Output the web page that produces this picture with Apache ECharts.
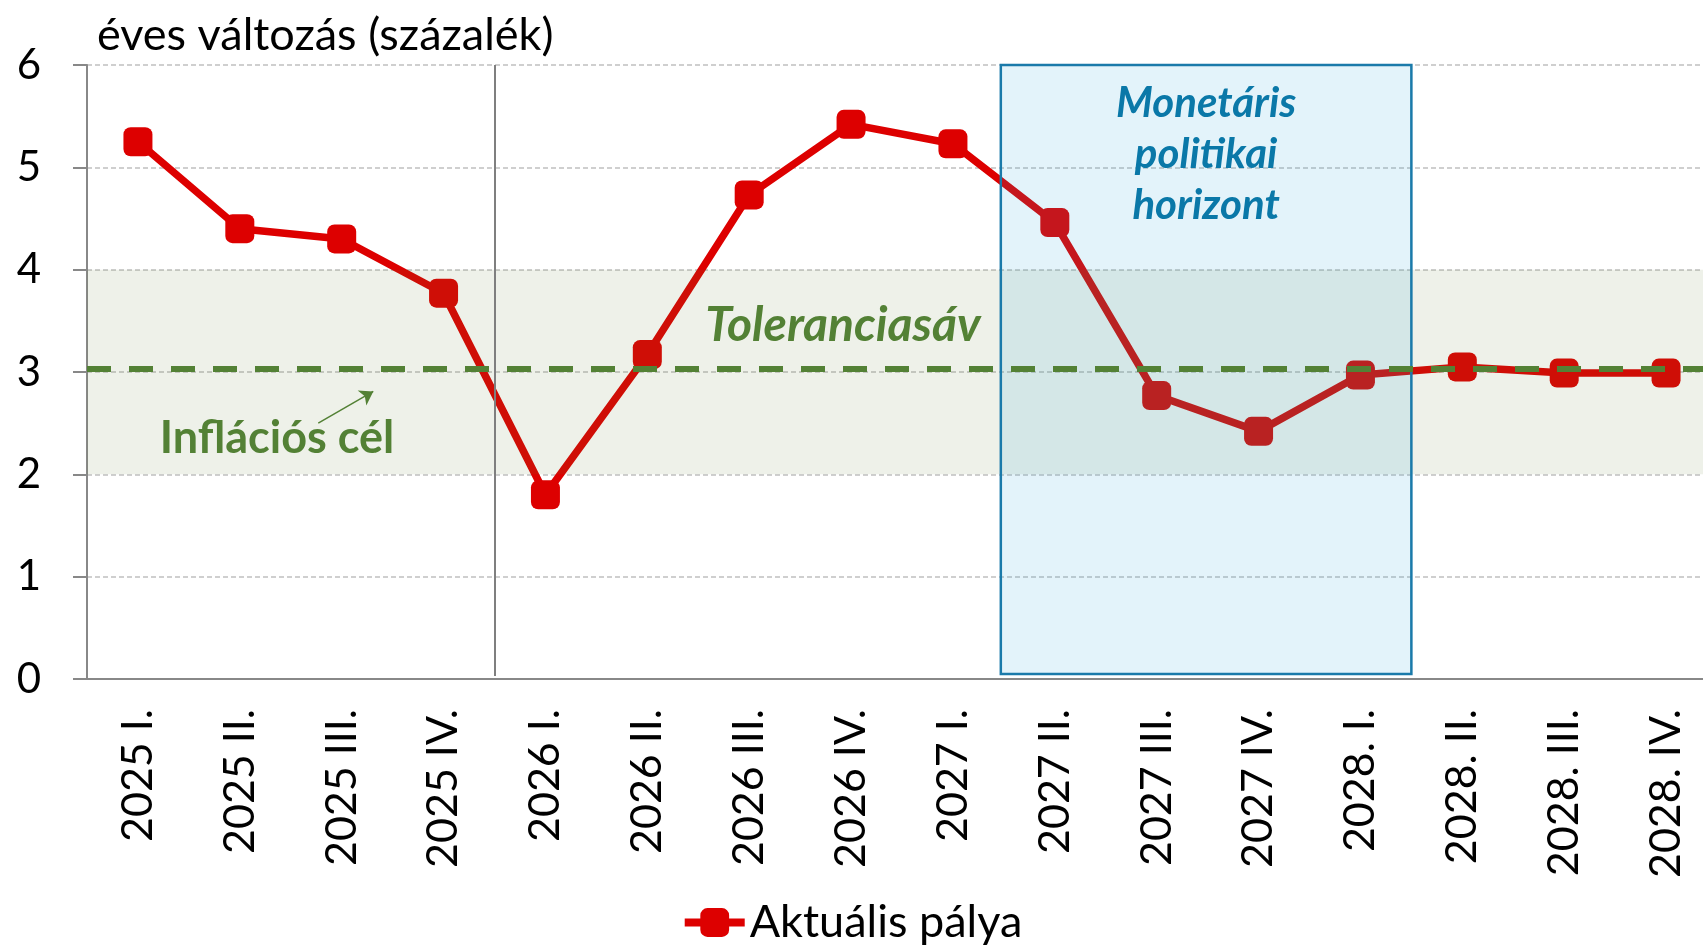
<!DOCTYPE html>
<html>
<head>
<meta charset="utf-8">
<title>Infláció - aktuális pálya</title>
<script src="https://cdn.jsdelivr.net/npm/echarts/dist/echarts.min.js"></script>
<style>
  html, body { margin: 0; padding: 0; background: #fff; overflow: hidden; }
  #chart { width: 1703px; height: 948px; }
</style>
</head>
<body>
<div id="chart"></div>
<script>
// negyedévek
const categories = ['2025 I.', '2025 II.', '2025 III.', '2025 IV.', '2026 I.', '2026 II.', '2026 III.', '2026 IV.',
  '2027 I.', '2027 II.', '2027 III.', '2027 IV.', '2028. I.', '2028. II.', '2028. III.', '2028. IV.']
// éves változás, százalék
const aktualis = [5.25, 4.4, 4.3, 3.77, 1.8, 3.17, 4.73, 5.42, 5.23, 4.46, 2.77, 2.42, 2.97, 3.05, 2.99, 2.99]
const yMin = 0
const yMax = 6
const yStep = 1
const inflaciosCel = 3.03
const toleranciaSav = [2, 4]
// monetáris politikai horizont (negyedév-határokban)
const horizontX = [8.97, 13]
const horizontY = [0.05, 6.02]
const elvalaszto = 4

const font = 'Lato, "Noto Sans", sans-serif'
const zold = '#538135'

const myChart = echarts.init(document.getElementById('chart'))

var option = {
  animation: false,
  textStyle: { fontFamily: font },
  title: {
    text: 'éves változás (százalék)',
    left: 92,
    top: 8,
    textStyle: { fontFamily: font, fontSize: 45, fontWeight: 'normal', color: '#000' }
  },
  legend: {
    data: ['Aktuális pálya'],
    left: 'center',
    top: 900,
    padding: 0,
    itemWidth: 60,
    itemHeight: 36,
    lineStyle: { width: 8 },
    textStyle: { fontFamily: font, fontSize: 45, color: '#000' }
  },
  grid: {
    left: 87,
    top: 65,
    width: 1630,
    height: 614,
    outerBoundsMode: 'none'
  },
  xAxis: [
    {
      type: 'category',
      data: categories,
      axisLine: { lineStyle: { color: '#888', width: 2 } },
      axisTick: { length: 14, lineStyle: { color: '#888', width: 2 } },
      axisLabel: { interval: 0, rotate: 90, margin: 30, fontSize: 43, color: '#000', fontFamily: font },
      splitLine: { show: false }
    },
    {
      type: 'value',
      min: 0,
      max: categories.length,
      show: false
    }
  ],
  yAxis: {
    type: 'value',
    min: yMin,
    max: yMax,
    interval: yStep,
    axisLine: { show: true, lineStyle: { color: '#888', width: 2 } },
    axisTick: { show: true, length: 14, lineStyle: { color: '#888', width: 2 } },
    axisLabel: { margin: 46, fontSize: 42, color: '#000', fontFamily: font },
    splitLine: { lineStyle: { color: '#c0c0c0', width: 1.5, type: [5, 3] } }
  },
  series: [
    {
      name: 'Aktuális pálya',
      type: 'line',
      z: 2,
      data: aktualis,
      symbol: 'roundRect',
      symbolSize: 29,
      color: '#dd0000',
      lineStyle: { color: '#dd0000', width: 7.5 },
      itemStyle: { color: '#dd0000' }
    },
    {
      // toleranciasáv
      name: 'sav',
      type: 'line',
      xAxisIndex: 1,
      data: [],
      markArea: {
        silent: true,
        z: 3,
        itemStyle: { color: 'rgba(100,127,55,0.11)' },
        data: [[{ yAxis: toleranciaSav[0] }, { yAxis: toleranciaSav[1] }]]
      },
      markPoint: {
        silent: true,
        symbol: 'circle',
        symbolSize: 0,
        label: {
          show: true,
          position: 'inside',
          color: zold,
          fontFamily: font,
          fontWeight: 'bold'
        },
        data: [
          {
            coord: [7.42, 3.45],
            label: { formatter: 'Toleranciasáv', fontSize: 48, fontStyle: 'italic' }
          },
          {
            coord: [1.865, 2.35],
            label: { formatter: 'Inflációs cél', fontSize: 45 }
          }
        ]
      }
    },
    {
      // horizont
      name: 'horizont',
      type: 'line',
      xAxisIndex: 1,
      data: [],
      markArea: {
        silent: true,
        z: 4,
        itemStyle: {
          color: 'rgba(44,165,217,0.133)',
          borderColor: '#1a7aaa',
          borderWidth: 2.5
        },
        label: {
          show: true,
          position: 'insideTop',
          distance: 14,
          formatter: 'Monetáris\npolitikai\nhorizont',
          fontFamily: font,
          fontSize: 42,
          lineHeight: 51,
          fontStyle: 'italic',
          fontWeight: 'bold',
          color: '#0a78a8'
        },
        data: [[
          { coord: [horizontX[0], horizontY[0]] },
          { coord: [horizontX[1], horizontY[1]] }
        ]]
      }
    },
    {
      // inflációs cél, elválasztó, nyíl
      name: 'jelolok',
      type: 'line',
      xAxisIndex: 1,
      data: [],
      markLine: {
        silent: true,
        z: 5,
        symbol: ['none', 'none'],
        label: { show: false },
        data: [
          {
            yAxis: inflaciosCel,
            lineStyle: { color: zold, width: 6, type: [24, 18] }
          },
          [
            { coord: [elvalaszto, 0.03], lineStyle: { color: '#7f7f7f', width: 2, type: 'solid' } },
            { coord: [elvalaszto, 6] }
          ],
          [
            { coord: [2.27, 2.5], symbol: 'none', lineStyle: { color: zold, width: 1.5, type: 'solid' } },
            { coord: [2.81, 2.81], symbol: 'arrow', symbolSize: 13 }
          ]
        ]
      }
    }
  ]
}

myChart.setOption(option)
</script>
</body>
</html>
